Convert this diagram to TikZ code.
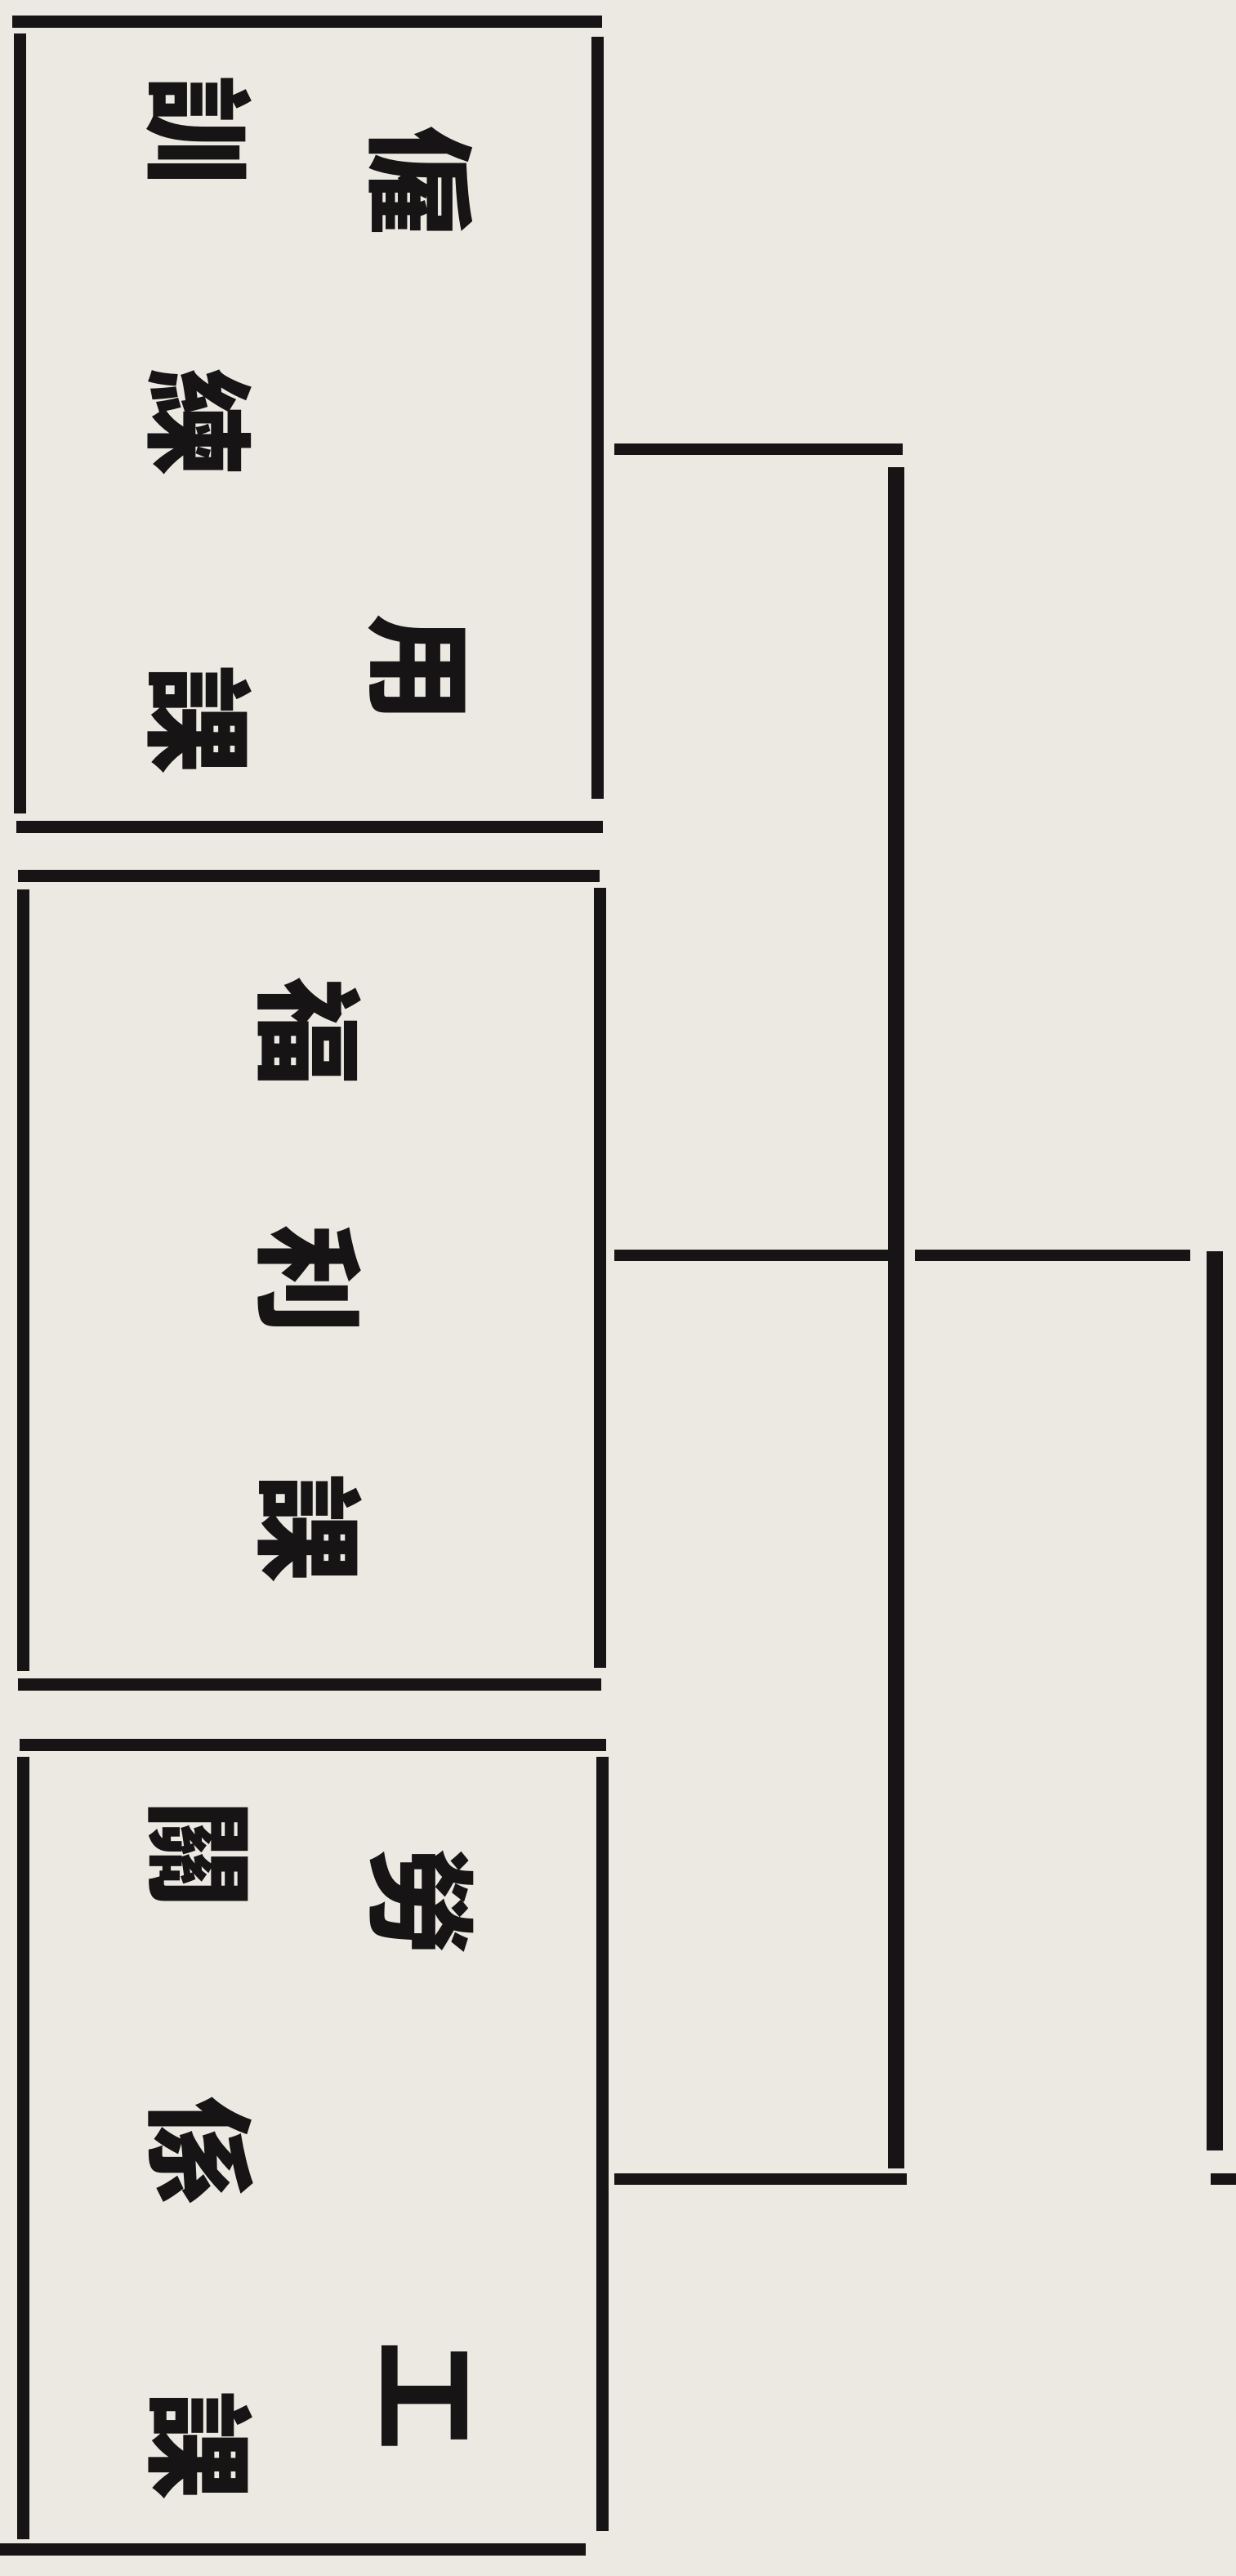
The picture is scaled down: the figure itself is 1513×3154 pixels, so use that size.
\documentclass[tikz,border=0pt]{standalone}
\usepackage{fontspec}
\newfontfamily\cjk{Noto Sans CJK TC}
\usetikzlibrary{calc,fit}
\definecolor{paper}{RGB}{236,233,227}
\definecolor{ink}{RGB}{22,20,20}
\begin{document}
\begin{tikzpicture}[x=0.02cm,y=-0.02cm,
  boxside/.style={ink,line width=8.6pt},
  conn/.style={ink,line width=8.2pt},
  trunk/.style={ink,line width=11pt},
  ch/.style={inner sep=0pt,text=ink,rotate=-90,font=\cjk\bfseries\fontsize{76}{76}\selectfont,text height=66.9pt,text depth=9.1pt},
  box/.style={draw=none,rectangle,inner sep=0pt}]
\fill[paper] (0,0) rectangle (1513,3154);
\useasboundingbox (0,0) rectangle (1513,3154);

% boxes
\node[box,fit={(25,27) (731,1012)}] (b1) {};
\node[box,fit={(29,1073) (734,2062)}] (b2) {};
\node[box,fit={(29,2137) (737,3121)}] (b3) {};

% box 1 sides
\draw[boxside] ($(b1.north west)+(-10,0)$) -- ($(b1.north east)+(6,0)$);
\draw[boxside] ($(b1.north west)+(0,14)$) -- ($(b1.south west)+(0,-16)$);
\draw[boxside] ($(b1.north east)+(0,18)$) -- ($(b1.south east)+(0,-34)$);
\draw[boxside] ($(b1.south west)+(-5,0)$) -- ($(b1.south east)+(7,0)$);
% box 2 sides
\draw[boxside] ($(b2.north west)+(-7,0)$) -- ($(b2.north east)+(0,0)$);
\draw[boxside] ($(b2.north west)+(0,16)$) -- ($(b2.south west)+(0,-16)$);
\draw[boxside] ($(b2.north east)+(0,14)$) -- ($(b2.south east)+(0,-20)$);
\draw[boxside] ($(b2.south west)+(-7,0)$) -- ($(b2.south east)+(2,0)$);
% box 3 sides
\draw[boxside] ($(b3.north west)+(-5,0)$) -- ($(b3.north east)+(5,0)$);
\draw[boxside] ($(b3.north west)+(0,14)$) -- ($(b3.south west)+(0,-12)$);
\draw[boxside] ($(b3.north east)+(0,14)$) -- ($(b3.south east)+(0,-22)$);
\draw[boxside] ($(b3.south west)+(-29,0)$) -- ($(b3.south east)+(-20,0)$);

% texts box 1
\node[ch] (c11) at (515,221) {僱};
\node[ch] (c12) at (515,818) {用};
\node[ch] (c13) at (244,159) {訓};
\node[ch] (c14) at (244,517) {練};
\node[ch] (c15) at (244,881) {課};
% texts box 2
\node[ch] (c21) at (379,1263) {福};
\node[ch] (c22) at (379,1566) {利};
\node[ch] (c23) at (379,1871) {課};
% texts box 3
\node[ch] (c31) at (516,2328) {勞};
\node[ch] (c32) at (522,2933) {工};
\node[ch] (c33) at (245,2270) {關};
\node[ch] (c34) at (245,2634) {係};
\node[ch] (c35) at (245,2994) {課};

% connectors
\coordinate (j1) at (1097,550);
\coordinate (j2) at (1097,1537);
\coordinate (j3) at (1097,2668);
\coordinate (k1) at (1487,1537);
\coordinate (k2) at (1487,2668);

\draw[conn] ($(b1.east|-j1)+(21,0)$) -- ($(j1)+(8,0)$);
\draw[trunk] ($(j1)+(0,22)$) -- ($(j3)+(0,-13)$);
\draw[conn] ($(b2.east|-j2)+(18,0)$) -- (j2);
\draw[conn] ($(b3.east|-j3)+(15,0)$) -- ($(j3)+(13,0)$);
\draw[conn] ($(j2)+(23,0)$) -- ($(k1)+(-30,0)$);
\draw[trunk] ($(k1)+(0,-5)$) -- ($(k2)+(0,-35)$);
\draw[conn] ($(k2)+(-5,0)$) -- ++(60,0);
\end{tikzpicture}
\end{document}
